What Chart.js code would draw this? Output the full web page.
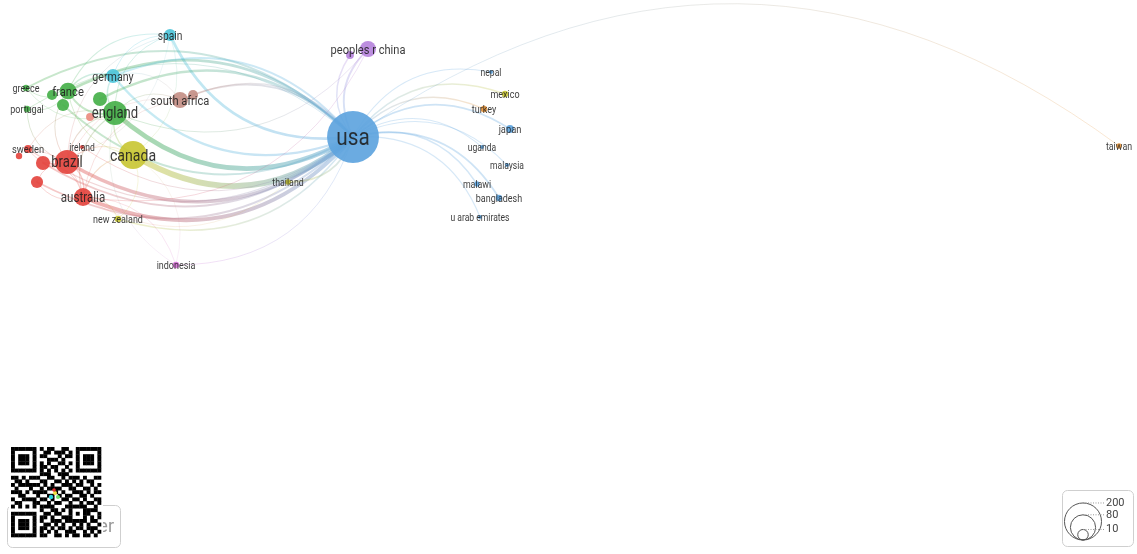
<!DOCTYPE html>
<html>
<head>
<meta charset="utf-8">
<script src="https://cdn.jsdelivr.net/npm/chart.js@4.4.1/dist/chart.umd.min.js"></script>
<style>
  html, body { margin:0; padding:0; background:#fff; overflow:hidden; }
  #net { display:block; }
</style>
</head>
<body>
<canvas id="net" width="1137" height="554"></canvas>
<script>
// ── network data ──
const NODE_IDS = ['usa','canada','england','brazil','australia','france','south africa','peoples r china','germany','spain',
  'france b','france c','england b','brazil b','red c','sweden','sweden b','greece','portugal','salmon',
  'south africa b','china b','new zealand','indonesia','thailand','ireland','nepal','mexico','turkey','japan',
  'uganda','malaysia','malawi','bangladesh','u arab emirates','taiwan'];
const NODE_LABELS = ['usa','canada','england','brazil','australia','france','south africa','peoples r china','germany','spain',
  '','','','','','sweden','','greece','portugal','',
  '','','new zealand','indonesia','thailand','ireland','nepal','mexico','turkey','japan',
  'uganda','malaysia','malawi','bangladesh','u arab emirates','taiwan'];
const NODE_X = [353,133,115,67,83,68,180,368,113,170, 52,63,100,43,37,28,19,26,27,90, 193,350,118,176,288,82,491,505,484,510, 482,507,477,499,480,1119];
const NODE_Y = [137,155,113,162,197,91,100,49,76,35, 95,105,99,163,182,149,156,88,109,117, 95,55,219,265,182,147,72,94,109,129, 147,165,184,198,217,146];
const NODE_DOCS = [447,103,71,71,36,30,27,27,20,14, 9,14,20,20,14,5,3,3,3,5, 9,5,3,3,2,1,1,3,3,5, 1,1,2,3,1,2];
const NODE_CLUSTER = [0,3,2,1,1,2,5,6,4,4, 2,2,2,1,1,1,1,2,2,8, 5,6,3,7,3,1,0,3,9,0, 0,0,0,0,0,9];
const CLUSTER_COLORS = ['#5ea4de','#e4453f','#46b04a','#c9c735','#4fc5da','#c48f86','#b684dc','#d572d6','#eb8b80','#e9973c'];

const LINKS = [
  ['usa','canada',6], ['usa','england',5], ['usa','brazil',3.5], ['usa','australia',4], ['usa','spain',3],
  ['usa','germany',2.5], ['usa','brazil b',2], ['usa','red c',2], ['usa','sweden',1.2], ['usa','new zealand',1.5],
  ['usa','indonesia',1], ['usa','thailand',2], ['usa','ireland',1], ['usa','france c',2],
  ['greece','usa',2], ['france','usa',3], ['germany','usa',2], ['south africa','usa',2], ['england b','usa',2.5],
  ['portugal','usa',1], ['south africa b','usa',1.5],
  ['usa','peoples r china',2], ['usa','china b',1.5], ['peoples r china','england',1], ['peoples r china','australia',1],
  ['usa','nepal',1.2], ['usa','mexico',1.5], ['usa','turkey',1.5], ['usa','japan',2], ['usa','uganda',1.2],
  ['usa','malaysia',1.2], ['usa','malawi',1.5], ['usa','bangladesh',2], ['usa','u arab emirates',1.2], ['usa','taiwan',1],
  ['brazil','australia',1.5], ['brazil','england',1.2], ['brazil','sweden',1], ['brazil','brazil b',1.5], ['brazil','canada',1],
  ['brazil','france',1], ['brazil','portugal',1], ['brazil','spain',0.8], ['brazil','ireland',0.6], ['brazil','south africa',0.7],
  ['australia','england',1.2], ['australia','canada',1.2], ['australia','new zealand',1], ['australia','indonesia',0.8],
  ['australia','south africa',0.8], ['australia','red c',1], ['canada','england',1.5], ['canada','france',1],
  ['canada','new zealand',0.8], ['canada','indonesia',0.6], ['england','france',2], ['england','germany',1.5],
  ['england','spain',1], ['england','south africa',1], ['england','greece',0.8], ['england','salmon',0.8],
  ['france','germany',1.5], ['france','spain',1.2], ['france','greece',1], ['france','portugal',1], ['germany','spain',1],
  ['germany','south africa',0.8], ['sweden','england',0.8], ['sweden','australia',0.8], ['brazil b','australia',1],
  ['red c','brazil',1], ['indonesia','england',0.6], ['thailand','australia',0.6], ['spain','canada',0.8], ['spain','brazil b',0.6]
];
const SIZE_LEGEND = [200, 80, 10];

const CURVE = 0.36;
const nodeIndex = {};
NODE_IDS.forEach((id,i) => nodeIndex[id] = i);
function radius(docs){ return 2 * Math.pow(docs, 0.42); }
function rgba(hex, a){
  const n = parseInt(hex.slice(1),16);
  return `rgba(${n>>16},${(n>>8)&255},${n&255},${a})`;
}

const QR_ROWS = [
  '1111111010110011001111111',
  '1000001001101110101000001',
  '1011101011000101101011101',
  '1011101000111010001011101',
  '1011101010100110101011101',
  '1000001011011001001000001',
  '1111111010101010101111111',
  '0000000011100111000000000',
  '1101011100110010111010011',
  '0110100011001101010101100',
  '1011111101010011101100101',
  '0100010010111100110011010',
  '1110101111001010011101011',
  '0011000100110101100110100',
  '1001111011010011011010011',
  '0110001100101100100101101',
  '1010101011110001111110010',
  '0000000010011010100011110',
  '1111111001101100101011001',
  '1000001011010011100010101',
  '1011101010011101111110110',
  '1011101001101010010101001',
  '1011101011010110101101110',
  '1000001010101001110010101',
  '1111111011001101011011010'
];

const linksPlugin = {
  id:'links',
  beforeDatasetsDraw(chart){
    const {ctx, scales:{x, y}} = chart;
    ctx.save();
    ctx.lineCap = 'round';
    LINKS.forEach(([s,t,w]) => {
      const a = nodeIndex[s], b = nodeIndex[t];
      const x0 = x.getPixelForValue(NODE_X[a]), y0 = y.getPixelForValue(NODE_Y[a]);
      const x1 = x.getPixelForValue(NODE_X[b]), y1 = y.getPixelForValue(NODE_Y[b]);
      const dx = x1-x0, dy = y1-y0;
      const cx = (x0+x1)/2 + CURVE*dy, cy = (y0+y1)/2 - CURVE*dx;
      const g = ctx.createLinearGradient(x0,y0,x1,y1);
      const al = Math.min(0.5, 0.18 + 0.06*w);
      g.addColorStop(0, rgba(CLUSTER_COLORS[NODE_CLUSTER[a]], al));
      g.addColorStop(1, rgba(CLUSTER_COLORS[NODE_CLUSTER[b]], al));
      ctx.strokeStyle = g;
      ctx.lineWidth = w*0.95;
      ctx.beginPath();
      ctx.moveTo(x0,y0);
      ctx.quadraticCurveTo(cx,cy,x1,y1);
      ctx.stroke();
    });
    ctx.restore();
  },
  afterDatasetsDraw(chart){
    const {ctx, scales:{x, y}} = chart;
    NODE_LABELS.forEach((lab,i) => {
      if(!lab) return;
      const fs = 9.5 + 0.72*Math.sqrt(NODE_DOCS[i]);
      ctx.save();
      ctx.translate(x.getPixelForValue(NODE_X[i]), y.getPixelForValue(NODE_Y[i]) + 1.5);
      ctx.scale(0.84, 1);
      ctx.font = `${fs.toFixed(1)}px Roboto, sans-serif`;
      ctx.fillStyle = 'rgba(30,30,30,0.88)';
      ctx.textAlign = 'center';
      ctx.textBaseline = 'middle';
      ctx.fillText(lab, 0, 0);
      ctx.restore();
    });
  },
  afterDraw(chart){
    const {ctx} = chart;
    ctx.save();
    // VOSviewer logo box (mostly hidden under the QR code)
    ctx.strokeStyle = '#cfcfcf'; ctx.lineWidth = 1;
    ctx.beginPath(); ctx.roundRect(7.5,505.5,113,42,5); ctx.stroke();
    ctx.fillStyle = '#9a9a9a';
    ctx.font = '18px Roboto, sans-serif';
    ctx.textAlign = 'right'; ctx.textBaseline = 'middle';
    ctx.fillText('VOSviewer', 114, 527);
    // QR code
    const m = 3.6, qx = 11, qy = 447;
    ctx.fillStyle = '#fff';
    ctx.fillRect(qx-2, qy-2, 25*m+4, 25*m+4);
    ctx.fillStyle = '#000';
    QR_ROWS.forEach((row,r) => {
      for(let c=0;c<row.length;c++) if(row[c]==='1') ctx.fillRect(qx+c*m, qy+r*m, m+0.3, m+0.3);
    });
    [['#2ad4e0',51,497,2.2],['#6ee06a',58,497,2],['#f0e040',55,493,2],['#e03030',54,490,1.8]].forEach(([c,px,py,rr]) => {
      ctx.fillStyle = c; ctx.beginPath(); ctx.arc(px,py,rr,0,Math.PI*2); ctx.fill();
    });
    // size legend
    ctx.strokeStyle = '#cfcfcf';
    ctx.beginPath(); ctx.roundRect(1062.5,490.5,71,56,5); ctx.stroke();
    const cx = 1083, base = 540;
    SIZE_LEGEND.forEach(v => {
      const r = radius(v);
      ctx.strokeStyle = '#555'; ctx.lineWidth = 1;
      ctx.beginPath(); ctx.arc(cx, base-r, r, 0, Math.PI*2); ctx.stroke();
      ctx.setLineDash([1,1.5]); ctx.strokeStyle = '#999';
      ctx.beginPath(); ctx.moveTo(cx, base-2*r); ctx.lineTo(1104, base-2*r); ctx.stroke();
      ctx.setLineDash([]);
      ctx.fillStyle = '#444'; ctx.font = '11px Roboto, sans-serif';
      ctx.textAlign = 'left'; ctx.textBaseline = 'middle';
      ctx.fillText(String(v), 1106, base-2*r);
    });
    ctx.restore();
  }
};

new Chart(document.getElementById('net'), {
  type:'bubble',
  data:{
    datasets:[{
      data: NODE_X.map((v,i) => ({x:v, y:NODE_Y[i], r:radius(NODE_DOCS[i])})),
      backgroundColor: NODE_CLUSTER.map(c => rgba(CLUSTER_COLORS[c], 0.92)),
      borderWidth: 0,
      hoverRadius: 0,
      clip: false
    }]
  },
  options:{
    responsive:false, animation:false, events:[],
    layout:{padding:0, autoPadding:false},
    plugins:{legend:{display:false}, tooltip:{enabled:false}},
    scales:{
      x:{type:'linear', min:0, max:1137, display:false},
      y:{type:'linear', min:0, max:554, reverse:true, display:false}
    }
  },
  plugins:[linksPlugin]
});
</script>
</body>
</html>
